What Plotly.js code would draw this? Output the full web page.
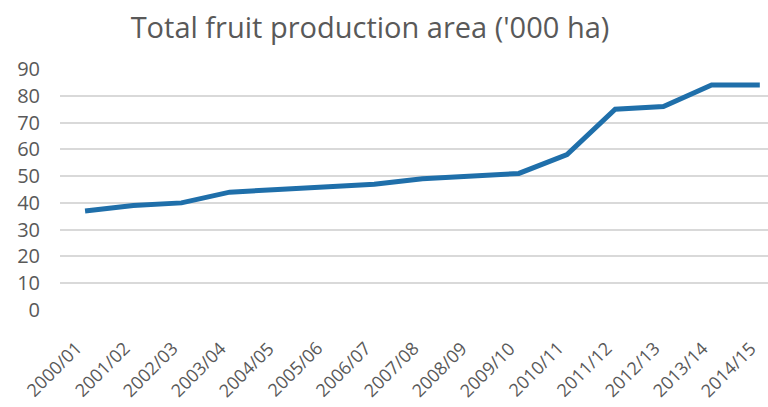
<!DOCTYPE html>
<html>
<head>
<meta charset="utf-8">
<script src="https://cdn.plot.ly/plotly-3.0.1.min.js"></script>
<style>html,body{margin:0;padding:0;background:#fff;}#chart{width:768px;height:407px;}</style>
</head>
<body>
<div id="chart"></div>
<script>
var seasons = ["2000/01","2001/02","2002/03","2003/04","2004/05","2005/06","2006/07","2007/08","2008/09","2009/10","2010/11","2011/12","2012/13","2013/14","2014/15"];
var areaThousandHa = [37, 39, 40, 44, 45, 46, 47, 49, 50, 51, 58, 75, 76, 84, 84];
var yTicks = [0, 10, 20, 30, 40, 50, 60, 70, 80, 90];

var trace = {
  x: seasons.map(function(s, i){ return i; }),
  y: areaThousandHa,
  type: 'scatter',
  mode: 'lines',
  line: {color: '#1F6FAA', width: 5},
  hoverinfo: 'skip'
};

var xLabels = seasons.map(function(s, i){
  return {
    x: i, y: 0, xref: 'x', yref: 'y',
    text: s, showarrow: false,
    textangle: -45,
    xanchor: 'right', yanchor: 'top',
    xshift: 4, yshift: -24,
    font: {family: 'Open Sans, sans-serif', size: 18, color: '#595959'}
  };
});

var layout = {
  width: 768, height: 407,
  margin: {l: 60, r: 0, t: 69, b: 97},
  paper_bgcolor: '#fff', plot_bgcolor: '#fff',
  showlegend: false,
  font: {family: 'Open Sans, sans-serif', color: '#595959'},
  title: {
    text: "Total fruit production area ('000 ha)",
    font: {family: 'Open Sans, sans-serif', size: 29, color: '#595959'},
    x: 370/768, xref: 'container', xanchor: 'center',
    y: 1 - 28/407, yref: 'container', yanchor: 'middle'
  },
  xaxis: {
    range: [-0.52, 14.17],
    showticklabels: false,
    showgrid: false, zeroline: false, showline: false,
    ticks: ''
  },
  yaxis: {
    range: [0, 90],
    tickvals: yTicks,
    showgrid: true, gridcolor: '#D9D9D9', gridwidth: 2,
    zeroline: false, showline: false,
    ticks: '',
    ticklabelstandoff: 19,
    tickfont: {size: 20, color: '#595959'}
  },
  annotations: xLabels
};

Plotly.newPlot('chart', [trace], layout, {displayModeBar: false, staticPlot: true});
</script>
</body>
</html>
